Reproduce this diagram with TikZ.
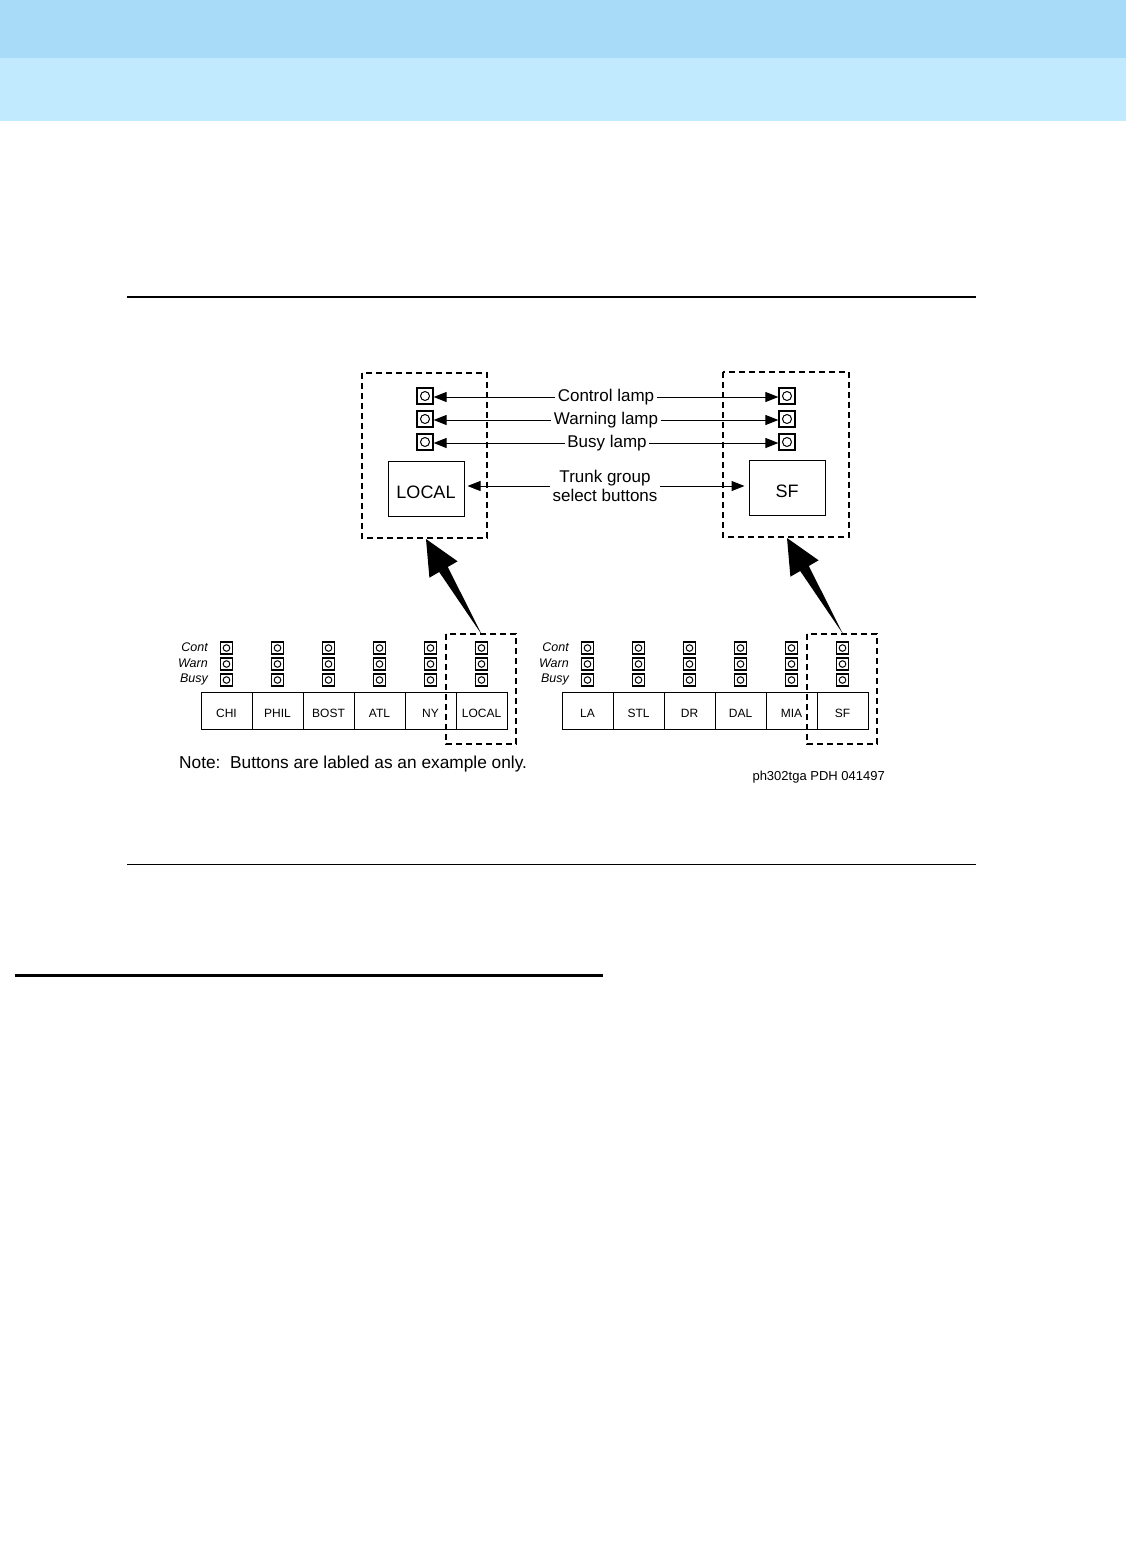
\documentclass[tikz,border=0pt]{standalone}
\usepackage{fontspec}
\setmainfont{Liberation Sans}
\usetikzlibrary{arrows.meta}
\definecolor{bandA}{HTML}{A8DBF8}
\definecolor{bandB}{HTML}{C2EAFE}
\tikzset{
  lampbig/.style={draw, line width=1.2pt, minimum size=16pt, inner sep=0pt,
    path picture={\draw[line width=1pt] (path picture bounding box.center) circle (4.5pt);}},
  lampsm/.style={draw, line width=1.1pt, minimum size=12pt, inner sep=0pt,
    path picture={\draw[line width=1pt] (path picture bounding box.center) circle (3.3pt);}},
  bigbtn/.style={draw, line width=1pt, minimum width=76pt, minimum height=55pt, inner sep=0pt,
    text height=21pt, font=\fontsize{18}{20}\selectfont},
  btn/.style={draw, line width=1pt, minimum width=51pt, minimum height=37pt, inner sep=0pt,
    text height=13.5pt, font=\fontsize{12}{14}\selectfont},
  lbl/.style={inner sep=2.5pt, text height=12.5pt, text depth=3.5pt, font=\fontsize{17}{20}\selectfont},
  rowlbl/.style={anchor=east, inner sep=0pt, font=\fontsize{12.5}{14}\selectfont\itshape},
  arr/.style={line width=1pt, -{Triangle[length=13pt,width=10pt]}},
  dbox/.style={line width=1.2pt, dash pattern=on 6pt off 4pt},
}
\begin{document}
\begin{tikzpicture}[x=1pt,y=-1pt]
\useasboundingbox (0,0) rectangle (1126,1566);
% header bands
\fill[bandA] (0,0) rectangle (1126,58);
\fill[bandB] (0,58) rectangle (1126,121);
% rules
\draw[line width=2pt] (127,297) -- (976,297);
\draw[line width=1pt] (127,864) -- (976,864);
\draw[line width=3pt] (15,975) -- (603,975);

% ---------- upper diagram ----------
\draw[dbox] (362,373) rectangle (487,538);
\draw[dbox] (723,372) rectangle (849,537);

\node[lampbig] (lc) at (425,396) {};
\node[lampbig] (lw) at (425,419) {};
\node[lampbig] (lb) at (425,442) {};
\node[lampbig] (rc) at (787,396) {};
\node[lampbig] (rw) at (787,419) {};
\node[lampbig] (rb) at (787,442) {};

\node[bigbtn] (LOCALbig) at (426,488.5) {LOCAL};
\node[bigbtn] (SFbig) at (787,487.5) {SF};

\node[lbl] (tc) at (606,397) {Control lamp};
\node[lbl] (tw) at (606,420) {Warning lamp};
\node[lbl] (tb) at (607,443) {Busy lamp};
\node[inner sep=2.5pt, align=center, font=\fontsize{17}{19}\selectfont] (tt) at (605,486) {Trunk group\\select buttons};

\draw[arr] (tc.west) -- (tc.west -| lc.east);
\draw[arr] (tc.east) -- (tc.east -| rc.west);
\draw[arr] (tw.west) -- (tw.west -| lw.east);
\draw[arr] (tw.east) -- (tw.east -| rw.west);
\draw[arr] (tb.west) -- (tb.west -| lb.east);
\draw[arr] (tb.east) -- (tb.east -| rb.west);
\draw[arr, shorten >=3pt] (tt.west) -- (tt.west -| LOCALbig.east);
\draw[arr, shorten >=4pt] (tt.east) -- (tt.east -| SFbig.west);

% big arrows
\fill (426,539) -- (457.6,561.3) -- (447.8,567) -- (482,635) -- (439.2,572) -- (429.4,577.7) -- cycle;
\fill[shift={(361,-1)}] (426,539) -- (457.6,561.3) -- (447.8,567) -- (482,635) -- (439.2,572) -- (429.4,577.7) -- cycle;

% ---------- lower left panel ----------
\node[rowlbl] (lcont) at (208,647) {Cont};
\node[rowlbl] (lwarn) at (208,663) {Warn};
\node[rowlbl] (lbusy) at (208,679) {Busy};
\foreach \i/\x/\t in {1/226.5/CHI,2/277.5/PHIL,3/328.5/BOST,4/379.5/ATL,5/430.5/NY,6/481.5/LOCAL}{
  \node[lampsm] (la\i) at (\x,648) {};
  \node[lampsm] (lb\i) at (\x,664) {};
  \node[lampsm] (lc\i) at (\x,680) {};
  \node[btn] (lbtn\i) at (\x,710.5) {\t};
}
\draw[dbox] (446,634) rectangle (516,744);

% ---------- lower right panel ----------
\node[rowlbl] (rcont) at (569,647) {Cont};
\node[rowlbl] (rwarn) at (569,663) {Warn};
\node[rowlbl] (rbusy) at (569,679) {Busy};
\foreach \i/\x/\t in {1/587.5/LA,2/638.5/STL,3/689.5/DR,4/740.5/DAL,5/791.5/MIA,6/842.5/SF}{
  \node[lampsm] (ra\i) at (\x,648) {};
  \node[lampsm] (rb\i) at (\x,664) {};
  \node[lampsm] (rc\i) at (\x,680) {};
  \node[btn] (rbtn\i) at (\x,710.5) {\t};
}
\draw[dbox] (807,634) rectangle (877,744);

% notes
\node[anchor=west, inner sep=0pt, font=\fontsize{17.3}{19}\selectfont] (note) at (179,764) {Note:\ \ Buttons are labled as an example only.};
\node[anchor=east, inner sep=0pt, font=\fontsize{13}{15}\selectfont] (code) at (885,777) {ph302tga PDH 041497};
\end{tikzpicture}
\end{document}
